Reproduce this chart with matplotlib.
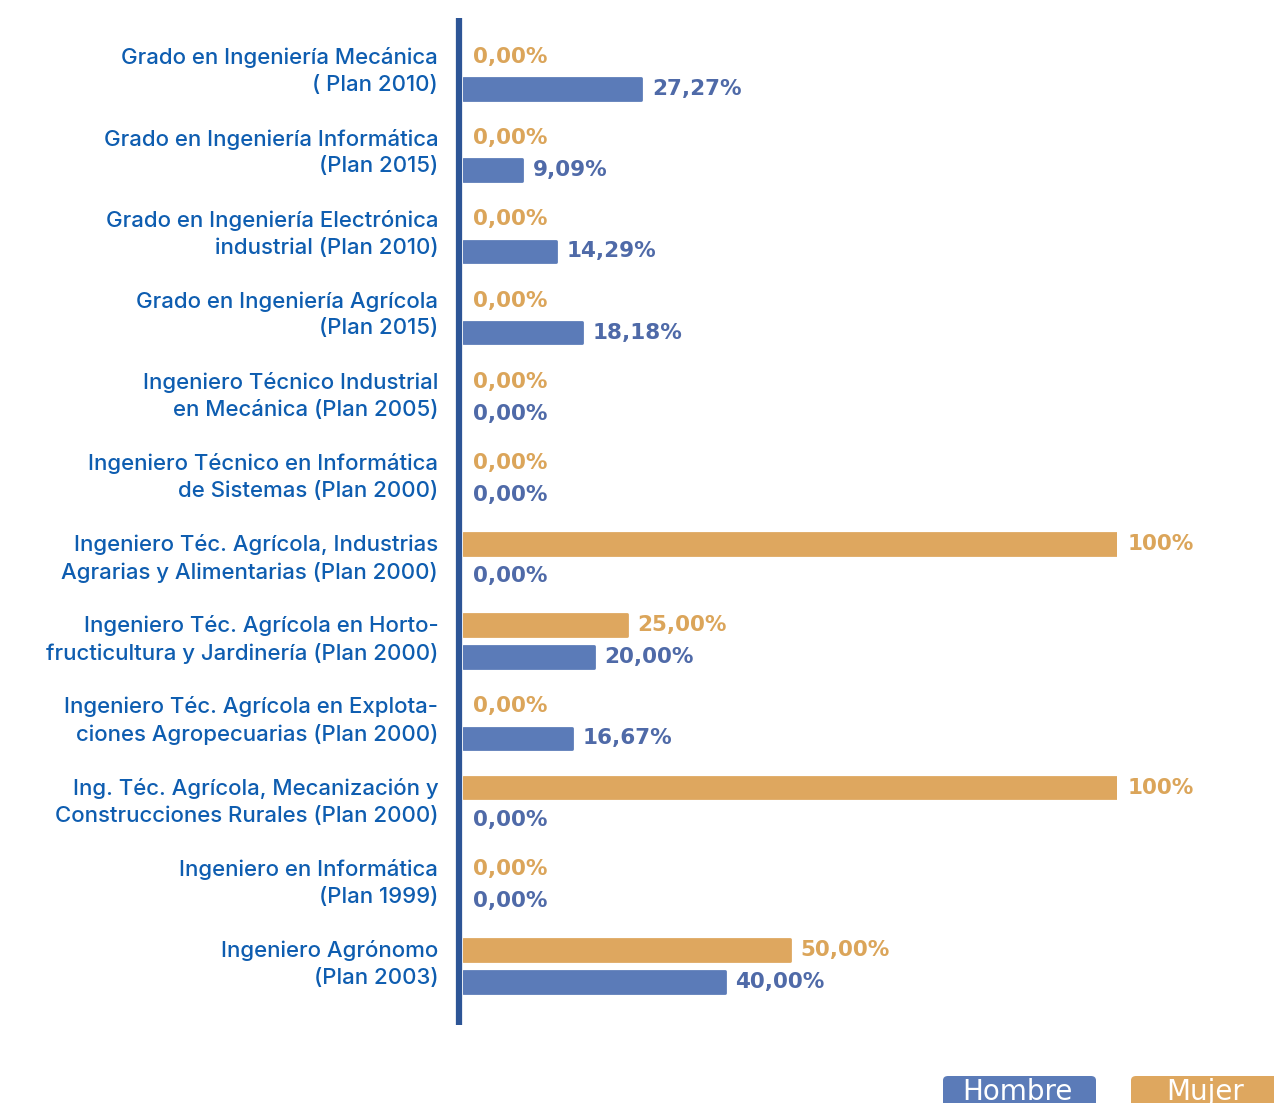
import matplotlib
matplotlib.use("Agg")
import matplotlib.pyplot as plt
from matplotlib.patches import FancyBboxPatch

# data
categories = [
    "Grado en Ingeniería Mecánica\n( Plan 2010)",
    "Grado en Ingeniería Informática\n(Plan 2015)",
    "Grado en Ingeniería Electrónica\nindustrial (Plan 2010)",
    "Grado en Ingeniería Agrícola\n(Plan 2015)",
    "Ingeniero Técnico Industrial\nen Mecánica (Plan 2005)",
    "Ingeniero Técnico en Informática\nde Sistemas (Plan 2000)",
    "Ingeniero Téc. Agrícola, Industrias\nAgrarias y Alimentarias (Plan 2000)",
    "Ingeniero Téc. Agrícola en Horto-\nfructicultura y Jardinería (Plan 2000)",
    "Ingeniero Téc. Agrícola en Explota-\nciones Agropecuarias (Plan 2000)",
    "Ing. Téc. Agrícola, Mecanización y\nConstrucciones Rurales (Plan 2000)",
    "Ingeniero en Informática\n(Plan 1999)",
    "Ingeniero Agrónomo\n(Plan 2003)",
]
hombre = [27.27, 9.09, 14.29, 18.18, 0, 0, 0, 20.00, 16.67, 0, 0, 40.00]
mujer = [0, 0, 0, 0, 0, 0, 100, 25.00, 0, 100, 0, 50.00]

C_HOMBRE = "#5b7bb8"
C_HOMBRE_TXT = "#4f6aa8"
C_MUJER = "#dea75f"
C_MUJER_TXT = "#dba55a"
C_LABEL = "#0e5db0"
C_AXIS = "#2d5596"

LABEL_FONT = "Inter"
VALUE_FONT = "DejaVu Sans"


def fmt(v):
    if v == 100:
        return "100%"
    return f"{v:.2f}".replace(".", ",") + "%"


W, H = 1274, 1103
fig = plt.figure(figsize=(W / 100, H / 100), dpi=100)
# axes: x=0 at 463 px, x=100 at 1117 px; y spans 18..1025 px
ax = fig.add_axes([463 / W, 1 - 1025 / H, 654 / W, 1007 / H])

n = len(categories)
off = 0.394   # mujer bar sits above hombre bar
bh = 0.265

y_h = [i for i in range(n)]
y_m = [i - off for i in range(n)]

# edge in same colour gives the slightly rounded ends; none on empty bars
ax.barh(y_h, hombre, height=bh, color=C_HOMBRE,
        edgecolor=[C_HOMBRE if v > 0 else "none" for v in hombre],
        linewidth=2, joinstyle="round")
ax.barh(y_m, mujer, height=bh, color=C_MUJER,
        edgecolor=[C_MUJER if v > 0 else "none" for v in mujer],
        linewidth=2, joinstyle="round")

for y, v in zip(y_h, hombre):
    ax.annotate(fmt(v), (v, y), xytext=(7.5, 0), textcoords="offset points",
                ha="left", va="center", color=C_HOMBRE_TXT, fontsize=15.5,
                fontweight="bold", family=VALUE_FONT)
for y, v in zip(y_m, mujer):
    ax.annotate(fmt(v), (v, y), xytext=(7.5, 0), textcoords="offset points",
                ha="left", va="center", color=C_MUJER_TXT, fontsize=15.5,
                fontweight="bold", family=VALUE_FONT)

for i, cat in enumerate(categories):
    ax.text(-3.8, i - off / 2 - 0.02, cat, ha="right", va="center",
            multialignment="right", color=C_LABEL, fontsize=16, fontweight=500,
            family=LABEL_FONT, linespacing=1.42)

ax.set_xlim(0, 100)
ax.set_ylim(n - 1 + 0.53, -0.874)
ax.axvline(-0.6, color=C_AXIS, lw=4.5, clip_on=False, solid_capstyle="butt")
for s in ax.spines.values():
    s.set_visible(False)
ax.set_xticks([])
ax.set_yticks([])

# legend boxes at the bottom, cut by the image edge as in the original
for x0, w, col, txt in [(943, 153, C_HOMBRE, "Hombre"), (1131, 160, C_MUJER, "Mujer")]:
    fig.patches.append(FancyBboxPatch((x0 / W, -20 / H), w / W, 47 / H,
                                      boxstyle="round,pad=0,rounding_size=0.004",
                                      transform=fig.transFigure, facecolor=col,
                                      edgecolor="none"))
    fig.text((x0 + 74) / W, 3 / H, txt, ha="center", va="baseline", color="white",
             fontsize=20, family=VALUE_FONT)

fig.savefig("out.png", dpi=100)
